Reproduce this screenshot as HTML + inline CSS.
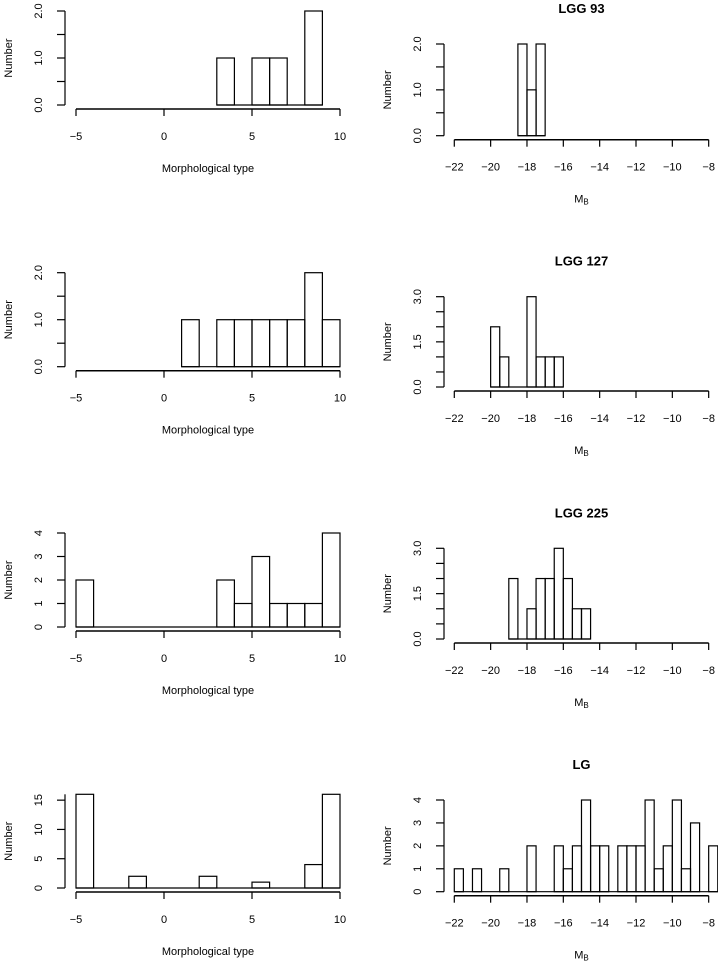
<!DOCTYPE html>
<html><head><meta charset="utf-8"><style>
body{margin:0;background:#fff}
svg{display:block;font-family:"Liberation Sans",sans-serif}
</style></head><body>
<svg id="c" width="718" height="961" viewBox="0 0 718 961"></svg>
<script>
// Left panels: morphological type histograms (bin width 1, start at bin left edge)
const morphEdges1=[3,5,6,8];const morphCounts1=[1,1,1,2];
const morphEdges2=[1,3,4,5,6,7,8,9];const morphCounts2=[1,1,1,1,1,1,2,1];
const morphEdges3=[-5,3,4,5,6,7,8,9];const morphCounts3=[2,2,1,3,1,1,1,4];
const morphEdges4=[-5,-2,2,5,8,9];const morphCounts4=[16,2,2,1,4,16];
const morphTicks=[-5,0,5,10];
// Right panels: M_B histograms (bin width 0.5)
const mbEdges1=[-18.5,-18,-17.5];const mbCounts1=[2,1,2];
const mbEdges2=[-20,-19.5,-18,-17.5,-17,-16.5];const mbCounts2=[2,1,3,1,1,1];
const mbEdges3=[-19,-18,-17.5,-17,-16.5,-16,-15.5,-15];const mbCounts3=[2,1,2,2,3,2,1,1];
const mbEdges4=[-22,-21,-19.5,-18,-16.5,-16,-15.5,-15,-14.5,-14,-13,-12.5,-12,-11.5,-11,-10.5,-10,-9.5,-9,-8];
const mbCounts4=[1,1,1,2,2,1,2,4,2,2,2,2,2,4,1,2,4,1,3,2];
const mbTicks=[-22,-20,-18,-16,-14,-12,-10,-8];
const titles=["LGG 93","LGG 127","LGG 225","LG"];

const svg=document.getElementById('c');const NS='http://www.w3.org/2000/svg';
function el(t,a,txt){const e=document.createElementNS(NS,t);for(const k in a)e.setAttribute(k,a[k]);if(txt!==undefined)e.textContent=txt;svg.appendChild(e);return e;}

function panel(o){
  const sx=v=>o.x0+(v-o.xmin)*o.pxu;
  const sy=v=>o.y0-(v/o.ymax)*(o.y0-o.ytop);
  o.edges.forEach((e,i)=>{
    const r=el('rect',{x:sx(e),y:sy(o.counts[i]),width:sx(e+o.bw)-sx(e),height:o.y0-sy(o.counts[i]),fill:'none',stroke:'#000','stroke-width':1.2});
    
    
  });
  const first=o.edges[0],last=o.edges[o.edges.length-1]+o.bw;
  const bl=el('line',{x1:sx(first),x2:sx(last),y1:o.y0,y2:o.y0,stroke:'#000','stroke-width':1.2});
  
  const ay=o.y0+4;
  const xa=el('line',{x1:sx(o.xt[0]),x2:sx(o.xt[o.xt.length-1]),y1:ay,y2:ay,stroke:'#000','stroke-width':1.5});
  
  o.xt.forEach(t=>{
    el('line',{x1:sx(t),x2:sx(t),y1:ay,y2:ay+7,stroke:'#000','stroke-width':1.2});
    const tl=el('text',{x:sx(t),y:ay+31,'text-anchor':'middle','font-size':11},t<0?'\u2212'+(-t):String(t));
    
  });
  const axx=o.yax;
  const ya=el('line',{x1:axx,x2:axx,y1:sy(0),y2:sy(o.ymax),stroke:'#000','stroke-width':1.2});
  
  o.yt.forEach(t=>{
    el('line',{x1:axx,x2:axx-8,y1:sy(t),y2:sy(t),stroke:'#000','stroke-width':1.2});
  });
  o.yl.forEach(([v,s])=>{
    const tl=el('text',{x:axx-23,y:sy(v),'text-anchor':'middle','font-size':11,transform:`rotate(-90 ${axx-23} ${sy(v)})`},s);
    
  });
  const my=(sy(0)+sy(o.ymax))/2;
  const yt=el('text',{x:axx-53,y:my,'text-anchor':'middle','font-size':11,transform:`rotate(-90 ${axx-53} ${my})`},'Number');
  
  const xl=el('text',{x:(sx(o.xt[0])+sx(o.xt[o.xt.length-1]))/2,y:ay+63,'text-anchor':'middle','font-size':11},o.xlab==='MB'?'':o.xlab);
  if(o.xlab==='MB'){const t1=document.createElementNS(NS,'tspan');t1.textContent='M';xl.appendChild(t1);const t2=document.createElementNS(NS,'tspan');t2.setAttribute('font-size','8');t2.setAttribute('dy','2');t2.textContent='B';xl.appendChild(t2);}
  
  if(o.title){
    const tt=el('text',{x:(sx(o.xt[0])+sx(o.xt[o.xt.length-1]))/2,y:o.ytop-31,'text-anchor':'middle','font-size':13,'font-weight':'bold'},o.title);
    
  }
}
const L={x0:76,xmin:-5,xmax:10,pxu:17.6,bw:1,yax:65,xt:morphTicks,xlab:'Morphological type'};
const half=[[0,'0.0'],[1,'1.0'],[2,'2.0']];
panel(Object.assign({},L,{id:'left-1',edges:morphEdges1,counts:morphCounts1,y0:105,ytop:11,ymax:2,yt:[0,0.5,1,1.5,2],yl:half}));
panel(Object.assign({},L,{id:'left-2',edges:morphEdges2,counts:morphCounts2,y0:366.7,ytop:272.7,ymax:2,yt:[0,0.5,1,1.5,2],yl:half}));
panel(Object.assign({},L,{id:'left-3',edges:morphEdges3,counts:morphCounts3,y0:627,ytop:533,ymax:4,yt:[0,1,2,3,4],yl:[[0,'0'],[1,'1'],[2,'2'],[3,'3'],[4,'4']]}));
panel(Object.assign({},L,{id:'left-4',edges:morphEdges4,counts:morphCounts4,y0:888,ytop:794.3,ymax:16,yt:[0,5,10,15],yl:[[0,'0'],[5,'5'],[10,'10'],[15,'15']]}));
const R={x0:454.3,xmin:-22,xmax:-8,pxu:18.17,bw:0.5,yax:444,xt:mbTicks,xlab:'MB'};
const th=[[0,'0.0'],[1.5,'1.5'],[3,'3.0']];
panel(Object.assign({},R,{id:'right-1',title:titles[0],edges:mbEdges1,counts:mbCounts1,y0:135.7,ytop:44,ymax:2,yt:[0,0.5,1,1.5,2],yl:half}));
panel(Object.assign({},R,{id:'right-2',title:titles[1],edges:mbEdges2,counts:mbCounts2,y0:387,ytop:296.7,ymax:3,yt:[0,0.5,1,1.5,2,2.5,3],yl:th}));
panel(Object.assign({},R,{id:'right-3',title:titles[2],edges:mbEdges3,counts:mbCounts3,y0:639,ytop:548.3,ymax:3,yt:[0,0.5,1,1.5,2,2.5,3],yl:th}));
panel(Object.assign({},R,{id:'right-4',title:titles[3],edges:mbEdges4,counts:mbCounts4,y0:891.7,ytop:800,ymax:4,xmax:-7.5,yt:[0,1,2,3,4],yl:[[0,'0'],[1,'1'],[2,'2'],[3,'3'],[4,'4']]}));
</script>
</body></html>
